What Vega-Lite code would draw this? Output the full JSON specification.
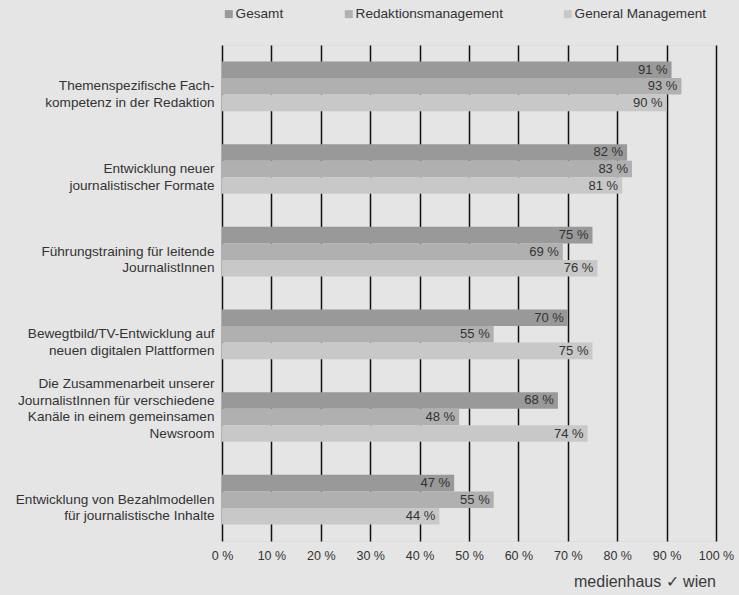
{
  "$schema": "https://vega.github.io/schema/vega-lite/v6.json",
  "width": 494,
  "height": 496,
  "autosize": {"type": "none"},
  "padding": {"left": 222, "top": 45, "right": 23, "bottom": 54},
  "background": "#e5e5e5",
  "title": {
    "text": "medienhaus ✓ wien",
    "orient": "bottom",
    "anchor": "end",
    "frame": "group",
    "offset": 12,
    "fontSize": 16,
    "fontWeight": "normal",
    "font": "Liberation Sans",
    "color": "#3a3a3a"
  },
  "data": {
    "values": [
      {"cat": "Themenspezifische Fach-|kompetenz in der Redaktion", "series": "Gesamt", "value": 91},
      {"cat": "Themenspezifische Fach-|kompetenz in der Redaktion", "series": "Redaktionsmanagement", "value": 93},
      {"cat": "Themenspezifische Fach-|kompetenz in der Redaktion", "series": "General Management", "value": 90},
      {"cat": "Entwicklung neuer|journalistischer Formate", "series": "Gesamt", "value": 82},
      {"cat": "Entwicklung neuer|journalistischer Formate", "series": "Redaktionsmanagement", "value": 83},
      {"cat": "Entwicklung neuer|journalistischer Formate", "series": "General Management", "value": 81},
      {"cat": "Führungstraining für leitende|JournalistInnen", "series": "Gesamt", "value": 75},
      {"cat": "Führungstraining für leitende|JournalistInnen", "series": "Redaktionsmanagement", "value": 69},
      {"cat": "Führungstraining für leitende|JournalistInnen", "series": "General Management", "value": 76},
      {"cat": "Bewegtbild/TV-Entwicklung auf|neuen digitalen Plattformen", "series": "Gesamt", "value": 70},
      {"cat": "Bewegtbild/TV-Entwicklung auf|neuen digitalen Plattformen", "series": "Redaktionsmanagement", "value": 55},
      {"cat": "Bewegtbild/TV-Entwicklung auf|neuen digitalen Plattformen", "series": "General Management", "value": 75},
      {"cat": "Die Zusammenarbeit unserer|JournalistInnen für verschiedene|Kanäle in einem gemeinsamen|Newsroom", "series": "Gesamt", "value": 68},
      {"cat": "Die Zusammenarbeit unserer|JournalistInnen für verschiedene|Kanäle in einem gemeinsamen|Newsroom", "series": "Redaktionsmanagement", "value": 48},
      {"cat": "Die Zusammenarbeit unserer|JournalistInnen für verschiedene|Kanäle in einem gemeinsamen|Newsroom", "series": "General Management", "value": 74},
      {"cat": "Entwicklung von Bezahlmodellen|für journalistische Inhalte", "series": "Gesamt", "value": 47},
      {"cat": "Entwicklung von Bezahlmodellen|für journalistische Inhalte", "series": "Redaktionsmanagement", "value": 55},
      {"cat": "Entwicklung von Bezahlmodellen|für journalistische Inhalte", "series": "General Management", "value": 44}
    ]
  },
  "transform": [{"calculate": "datum.value + ' %'", "as": "label"}],
  "encoding": {
    "y": {
      "field": "cat",
      "type": "nominal",
      "sort": null,
      "title": null,
      "scale": {"paddingInner": 0.4, "paddingOuter": 0.2},
      "axis": {
        "domain": false,
        "ticks": false,
        "labelExpr": "split(datum.label, '|')",
        "labelAlign": "right",
        "labelBaseline": "middle",
        "labelOffset": {"condition": {"test": "indexof(datum.value, 'Newsroom') >= 0", "value": -33}, "value": 0},
        "labelPadding": 8,
        "labelFontSize": 13.6,
        "labelLineHeight": 16.5,
        "labelColor": "#333333",
        "labelFont": "Liberation Sans",
        "labelLimit": 260
      }
    },
    "yOffset": {
      "field": "series",
      "type": "nominal",
      "sort": ["Gesamt", "Redaktionsmanagement", "General Management"],
      "scale": {"paddingInner": 0, "paddingOuter": 0}
    },
    "x": {
      "field": "value",
      "type": "quantitative",
      "scale": {"domain": [0, 100], "nice": false},
      "title": null,
      "axis": {
        "values": [0, 10, 20, 30, 40, 50, 60, 70, 80, 90, 100],
        "labelExpr": "datum.value + ' %'",
        "labelOverlap": false,
        "labelFlush": false,
        "domain": false,
        "ticks": false,
        "grid": true,
        "gridColor": "#111111",
        "gridWidth": 1.5,
        "gridOpacity": 1,
        "labelPadding": 8,
        "labelFontSize": 12.5,
        "labelColor": "#333333",
        "labelFont": "Liberation Sans"
      }
    }
  },
  "layer": [
    {
      "mark": {"type": "bar"},
      "encoding": {
        "color": {
          "field": "series",
          "type": "nominal",
          "sort": ["Gesamt", "Redaktionsmanagement", "General Management"],
          "scale": {
            "domain": ["Gesamt", "Redaktionsmanagement", "General Management"],
            "range": ["#999999", "#b0b0b0", "#c8c8c8"]
          },
          "legend": {
            "title": null,
            "orient": "top",
            "direction": "horizontal",
            "offset": 24,
            "symbolType": "square",
            "symbolSize": 64,
            "symbolStrokeWidth": 0,
            "labelFontSize": 13.6,
            "labelColor": "#333333",
            "labelFont": "Liberation Sans",
            "labelOffset": 0,
            "columnPadding": 58,
            "padding": 0
          }
        }
      }
    },
    {
      "mark": {"type": "text", "align": "right", "baseline": "middle", "dx": -4, "fontSize": 13, "font": "Liberation Sans", "color": "#333333"},
      "encoding": {"text": {"field": "label"}}
    }
  ]
}
